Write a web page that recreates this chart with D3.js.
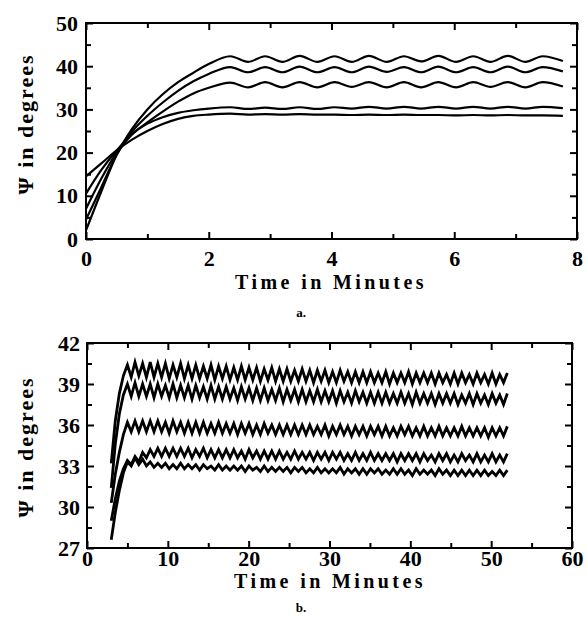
<!DOCTYPE html>
<html>
<head>
<meta charset="utf-8">
<script src="https://cdn.jsdelivr.net/npm/d3@7"></script>
<style>
body{margin:0;background:#fff;}
svg text{font-family:"Liberation Serif","Times New Roman",serif;font-weight:bold;fill:#000;}
.tk text{font-size:22px;}
</style>
</head>
<body>
<svg id="chart" width="587" height="619"></svg>
<script>
// ---- panel a : time (min) and psi (deg)
var aTimes = [0, 0.25, 0.5, 0.75, 1, 1.25, 1.5, 1.75, 2, 2.35,
  2.64, 2.92, 3.2, 3.48, 3.77, 4.05, 4.33, 4.61, 4.9, 5.18,
  5.46, 5.74, 6.03, 6.31, 6.59, 6.87, 7.16, 7.44, 7.77];
var aCurve1 = [2, 11, 19.5, 25.5, 30, 33.5, 36.3, 38.5, 40.5, 42.3,
  41.0, 42.3, 41.0, 42.4, 41.0, 42.3, 41.0, 42.4, 41.0, 42.3,
  41.1, 42.4, 41.0, 42.3, 41.0, 42.4, 41.0, 42.3, 41.2];
var aCurve2 = [4.5, 12, 19.5, 24.8, 28.5, 31.6, 34.3, 36.5, 38.2, 39.8,
  38.6, 39.8, 38.6, 39.9, 38.6, 39.8, 38.6, 39.9, 38.7, 39.8,
  38.6, 39.9, 38.6, 39.8, 38.6, 39.9, 38.6, 39.8, 38.8];
var aCurve3 = [7, 14, 20, 24.2, 27, 29.5, 31.8, 33.7, 35, 36.2,
  35.1, 36.3, 35.1, 36.3, 35.1, 36.3, 35.2, 36.3, 35.1, 36.3,
  35.1, 36.3, 35.1, 36.3, 35.2, 36.3, 35.1, 36.3, 35.3];
var aCurve4 = [10.5, 16, 20.5, 24.3, 26.7, 28.2, 29.2, 29.8, 30.2, 30.5,
  30.1, 30.4, 30.1, 30.5, 30.1, 30.5, 30.2, 30.6, 30.2, 30.6,
  30.2, 30.6, 30.2, 30.6, 30.2, 30.6, 30.2, 30.6, 30.3];
var aCurve5 = [14.5, 17.5, 20.5, 23, 25, 26.6, 27.8, 28.5, 28.8, 29,
  28.8, 28.9, 28.8, 28.9, 28.8, 28.8, 28.7, 28.8, 28.7, 28.8,
  28.7, 28.7, 28.6, 28.7, 28.6, 28.7, 28.6, 28.6, 28.5];
var aXTicks = [0, 2, 4, 6, 8];
var aXMinor = [1, 3, 5, 7];
var aYTicks = [0, 10, 20, 30, 40, 50];
var aYMinor = [5, 15, 25, 35, 45];

// ---- panel b : start-up ramp then saw-tooth (peaks / troughs)
var bRiseTimes = [3, 3.5, 4, 4.5];
var bRise1 = [33.2, 36.3, 38.3, 39.6];
var bRise2 = [31.4, 34.6, 36.8, 38.2];
var bRise3 = [30.3, 32.4, 34.0, 35.3];
var bRise4 = [29.0, 30.6, 31.9, 32.8];
var bRise5 = [27.6, 29.6, 31.2, 32.5];
var bToothStart = 5, bHalfPeriod = 0.47; // spacing of the teeth (min)

var bPeaks1 = [40.4, 40.6, 40.5, 40.6, 40.5, 40.5, 40.4, 40.5, 40.4, 40.4,
  40.3, 40.4, 40.3, 40.3, 40.2, 40.3, 40.2, 40.2, 40.1, 40.2,
  40.1, 40.1, 40.0, 40.1, 40.0, 40.0, 40.0, 39.9, 40.0, 39.9,
  39.9, 39.9, 39.9, 39.8, 39.9, 39.8, 39.8, 39.9, 39.8, 39.8,
  39.8, 39.8, 39.7, 39.8, 39.8, 39.7, 39.8, 39.7, 39.8, 39.7,
  39.8];
var bTroughs1 = [39.5, 39.6, 39.5, 39.5, 39.5, 39.4, 39.5, 39.4, 39.4, 39.4,
  39.4, 39.3, 39.4, 39.3, 39.3, 39.3, 39.3, 39.2, 39.3, 39.2,
  39.2, 39.2, 39.2, 39.2, 39.1, 39.2, 39.1, 39.1, 39.2, 39.1,
  39.1, 39.1, 39.1, 39.1, 39.0, 39.1, 39.1, 39.0, 39.1, 39.1,
  39.0, 39.1, 39.0, 39.0, 39.1, 39.0, 39.1, 39.0, 39.0, 39.1];

var bPeaks2 = [39.0, 39.1, 39.0, 39.0, 39.0, 38.9, 39.0, 38.9, 38.9, 38.9,
  38.8, 38.9, 38.8, 38.8, 38.7, 38.8, 38.7, 38.7, 38.7, 38.6,
  38.7, 38.6, 38.6, 38.6, 38.5, 38.6, 38.5, 38.5, 38.5, 38.4,
  38.5, 38.4, 38.4, 38.4, 38.4, 38.3, 38.4, 38.3, 38.4, 38.3,
  38.3, 38.3, 38.3, 38.3, 38.2, 38.3, 38.3, 38.2, 38.3, 38.2,
  38.3];
var bTroughs2 = [38.1, 38.1, 38.1, 38.0, 38.1, 38.0, 38.0, 38.0, 37.9, 38.0,
  37.9, 37.9, 37.9, 37.9, 37.8, 37.9, 37.8, 37.8, 37.8, 37.8,
  37.7, 37.8, 37.7, 37.7, 37.7, 37.7, 37.7, 37.6, 37.7, 37.6,
  37.7, 37.6, 37.6, 37.6, 37.6, 37.6, 37.6, 37.5, 37.6, 37.6,
  37.5, 37.6, 37.6, 37.5, 37.6, 37.5, 37.6, 37.5, 37.6, 37.5];

var bPeaks3 = [36.2, 36.3, 36.3, 36.3, 36.3, 36.2, 36.3, 36.2, 36.2, 36.2,
  36.2, 36.1, 36.2, 36.1, 36.1, 36.1, 36.1, 36.0, 36.1, 36.0,
  36.0, 36.0, 36.0, 36.0, 36.0, 35.9, 36.0, 35.9, 36.0, 35.9,
  35.9, 35.9, 35.9, 35.9, 35.9, 35.8, 35.9, 35.9, 35.8, 35.9,
  35.8, 35.9, 35.8, 35.8, 35.9, 35.8, 35.8, 35.8, 35.8, 35.8,
  35.9];
var bTroughs3 = [35.5, 35.5, 35.5, 35.5, 35.5, 35.4, 35.5, 35.4, 35.4, 35.4,
  35.4, 35.4, 35.4, 35.4, 35.3, 35.4, 35.3, 35.3, 35.4, 35.3,
  35.3, 35.3, 35.3, 35.3, 35.3, 35.3, 35.2, 35.3, 35.3, 35.2,
  35.3, 35.2, 35.3, 35.2, 35.2, 35.2, 35.3, 35.2, 35.2, 35.2,
  35.2, 35.2, 35.2, 35.2, 35.2, 35.2, 35.2, 35.1, 35.2, 35.2];

var bPeaks4 = [33.4, 33.7, 34.0, 34.2, 34.3, 34.3, 34.3, 34.3, 34.3, 34.2,
  34.3, 34.2, 34.2, 34.2, 34.2, 34.1, 34.2, 34.1, 34.1, 34.1,
  34.1, 34.0, 34.1, 34.0, 34.0, 34.0, 34.0, 34.0, 34.0, 33.9,
  34.0, 33.9, 34.0, 33.9, 33.9, 33.9, 33.9, 33.9, 33.9, 33.9,
  33.8, 33.9, 33.9, 33.8, 33.9, 33.8, 33.9, 33.8, 33.9, 33.8,
  33.9];
var bTroughs4 = [33.1, 33.3, 33.6, 33.7, 33.7, 33.7, 33.7, 33.7, 33.6, 33.7,
  33.6, 33.6, 33.6, 33.6, 33.6, 33.5, 33.6, 33.5, 33.5, 33.5,
  33.5, 33.5, 33.5, 33.5, 33.4, 33.5, 33.4, 33.5, 33.4, 33.4,
  33.4, 33.4, 33.4, 33.4, 33.4, 33.3, 33.4, 33.4, 33.3, 33.4,
  33.3, 33.4, 33.3, 33.3, 33.4, 33.3, 33.3, 33.3, 33.3, 33.3];

var bPeaks5 = [33.3, 33.6, 33.5, 33.3, 33.2, 33.2, 33.1, 33.2, 33.1, 33.1,
  33.1, 33.0, 33.1, 33.0, 33.0, 33.0, 33.0, 32.9, 33.0, 32.9,
  32.9, 32.9, 32.9, 32.9, 32.8, 32.9, 32.8, 32.8, 32.9, 32.8,
  32.8, 32.8, 32.8, 32.8, 32.7, 32.8, 32.8, 32.7, 32.8, 32.7,
  32.7, 32.8, 32.7, 32.7, 32.7, 32.7, 32.7, 32.7, 32.6, 32.7,
  32.7];
var bTroughs5 = [33.0, 33.1, 33.0, 32.9, 32.9, 32.8, 32.8, 32.8, 32.8, 32.7,
  32.8, 32.7, 32.7, 32.7, 32.7, 32.6, 32.7, 32.6, 32.6, 32.6,
  32.6, 32.5, 32.6, 32.5, 32.5, 32.5, 32.5, 32.5, 32.4, 32.5,
  32.4, 32.4, 32.5, 32.4, 32.4, 32.4, 32.4, 32.3, 32.4, 32.4,
  32.3, 32.4, 32.3, 32.3, 32.3, 32.3, 32.3, 32.3, 32.3, 32.3];

var bXTicks = [0, 10, 20, 30, 40, 50, 60];
var bXMinor = [5, 15, 25, 35, 45, 55];
var bYTicks = [27, 30, 33, 36, 39, 42];
var bYMinor = [28.5, 31.5, 34.5, 37.5, 40.5];

var svg = d3.select("#chart");

// peak, trough, peak ... in time order
function sawtooth(rT, rV, peaks, troughs) {
  var pts = rT.map((t, i) => [t, rV[i]]);
  var k = 0;
  for (var i = 0; i < peaks.length; i++) {
    pts.push([bToothStart + k * bHalfPeriod, peaks[i]]); k++;
    if (i < troughs.length) { pts.push([bToothStart + k * bHalfPeriod, troughs[i]]); k++; }
  }
  return pts;
}

function drawPanel(p) {
  var x = d3.scaleLinear().domain(p.xDom).range([p.left, p.right]);
  var y = d3.scaleLinear().domain(p.yDom).range([p.bottom, p.top]);
  var g = svg.append("g");

  function clean(sel) {
    sel.select(".domain").remove();
    sel.attr("font-size", null).attr("font-family", null);
    sel.selectAll("line").attr("stroke", "#000").attr("stroke-width", 2);
  }

  // bottom, with labels
  g.append("g").attr("class", "tk").attr("transform", `translate(0,${p.bottom})`)
    .call(d3.axisBottom(x).tickValues(p.xTicks).tickSize(-7).tickPadding(p.xPad).tickFormat(d3.format("d")))
    .call(clean);
  g.append("g").attr("transform", `translate(0,${p.bottom})`)
    .call(d3.axisBottom(x).tickValues(p.xMinor).tickSize(-5).tickFormat(""))
    .call(clean);
  // top
  g.append("g").attr("transform", `translate(0,${p.top})`)
    .call(d3.axisTop(x).tickValues(p.xTicks).tickSize(-7).tickFormat(""))
    .call(clean);
  g.append("g").attr("transform", `translate(0,${p.top})`)
    .call(d3.axisTop(x).tickValues(p.xMinor).tickSize(-5).tickFormat(""))
    .call(clean);
  // left, with labels
  g.append("g").attr("class", "tk").attr("transform", `translate(${p.left},0)`)
    .call(d3.axisLeft(y).tickValues(p.yTicks).tickSize(-7).tickPadding(p.yPad).tickFormat(d3.format("d")))
    .call(clean);
  g.append("g").attr("transform", `translate(${p.left},0)`)
    .call(d3.axisLeft(y).tickValues(p.yMinor).tickSize(-5).tickFormat(""))
    .call(clean);
  // right
  g.append("g").attr("transform", `translate(${p.right},0)`)
    .call(d3.axisRight(y).tickValues(p.yTicks).tickSize(-7).tickFormat(""))
    .call(clean);
  g.append("g").attr("transform", `translate(${p.right},0)`)
    .call(d3.axisRight(y).tickValues(p.yMinor).tickSize(-5).tickFormat(""))
    .call(clean);

  g.append("rect")
    .attr("x", p.left).attr("y", p.top)
    .attr("width", p.right - p.left).attr("height", p.bottom - p.top)
    .attr("fill", "none").attr("stroke", "#000").attr("stroke-width", 2);

  var line = d3.line().x(d => x(d[0])).y(d => y(d[1])).curve(p.curve);
  g.append("g").selectAll("path")
    .data(p.series)
    .join("path")
      .attr("d", line)
      .attr("fill", "none")
      .attr("stroke", "#000")
      .attr("stroke-width", p.lw);

  g.append("text")
    .attr("transform", `translate(${p.yLabX},${p.yLabY}) rotate(-90)`)
    .attr("text-anchor", "middle")
    .style("font-size", "22px")
    .style("letter-spacing", "2px")
    .text("\u03A8 in degrees");

  g.append("text")
    .attr("x", p.xLabX).attr("y", p.xLabY)
    .attr("text-anchor", "middle")
    .style("font-size", p.xLabSize + "px")
    .style("letter-spacing", "3.4px")
    .text("Time in Minutes");

  g.append("text")
    .attr("x", 301).attr("y", p.tagY)
    .attr("text-anchor", "middle")
    .style("font-size", "13px")
    .text(p.tag);
}

var zipA = v => aTimes.map((t, i) => [t, v[i]]);

drawPanel({
  xDom: [0, 8], yDom: [0, 50],
  left: 86, right: 577, top: 23, bottom: 239,
  xTicks: aXTicks, xMinor: aXMinor, yTicks: aYTicks, yMinor: aYMinor,
  xPad: 11, yPad: 8,
  series: [aCurve1, aCurve2, aCurve3, aCurve4, aCurve5].map(zipA),
  curve: d3.curveMonotoneX, lw: 2.2,
  yLabX: 33, yLabY: 124, xLabX: 331, xLabY: 289, xLabSize: 20,
  tag: "a.", tagY: 317
});

drawPanel({
  xDom: [0, 60], yDom: [27, 42],
  left: 87, right: 572, top: 343, bottom: 548,
  xTicks: bXTicks, xMinor: bXMinor, yTicks: bYTicks, yMinor: bYMinor,
  xPad: 2, yPad: 7,
  series: [
    sawtooth(bRiseTimes, bRise1, bPeaks1, bTroughs1),
    sawtooth(bRiseTimes, bRise2, bPeaks2, bTroughs2),
    sawtooth(bRiseTimes, bRise3, bPeaks3, bTroughs3),
    sawtooth(bRiseTimes, bRise4, bPeaks4, bTroughs4),
    sawtooth(bRiseTimes, bRise5, bPeaks5, bTroughs5)
  ],
  curve: d3.curveLinear, lw: 2.8,
  yLabX: 33, yLabY: 447, xLabX: 330, xLabY: 588, xLabSize: 20,
  tag: "b.", tagY: 612
});
</script>
</body>
</html>
